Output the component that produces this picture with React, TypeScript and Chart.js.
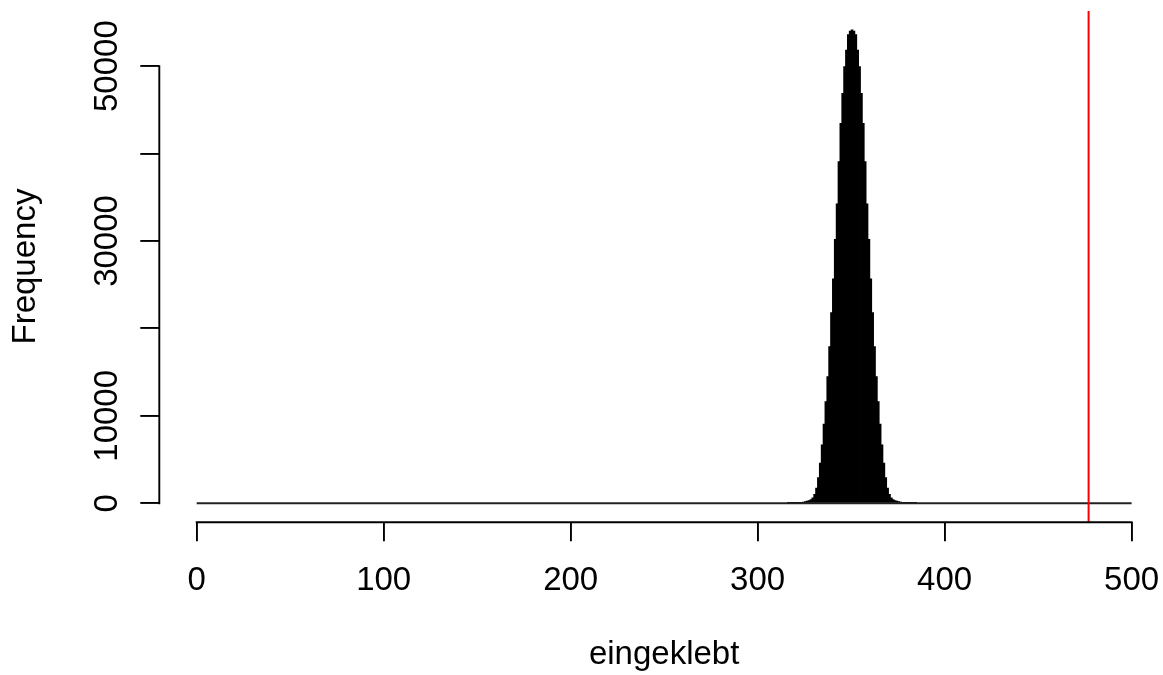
import React, { useEffect, useRef } from "react";
import { Chart, registerables } from "chart.js";

Chart.register(...registerables);

// Histogram bins have width 1; BIN_START is the left break of the first listed bin.
// All other bins between BREAK_RANGE[0] and BREAK_RANGE[1] have a count of 0.
const BIN_START = 316;
const COUNTS = [
  1, 2, 5, 10, 18, 30, 55, 90, 140, 185,
  230, 300, 400, 600, 1000, 1720, 2930, 4580, 6670, 9040,
  11620, 14480, 17910, 21800, 25650, 30190, 34230, 39070, 43460, 46890,
  49930, 51830, 53600, 54000,
  54150,
  54000, 53600, 51830, 49930,
  46890, 43460, 39070, 34230, 30190, 25650, 21800, 17910, 14480, 11620,
  9040, 6670, 4580, 2930, 1720, 1000, 600, 400, 300, 230,
  185, 140, 90, 55, 30, 18, 10, 5, 2, 1,
];
const BREAK_RANGE = [0, 500];
const OBSERVED = [477];

const X_TICKS = [0, 100, 200, 300, 400, 500];
const X_TICK_LABELS = ["0", "100", "200", "300", "400", "500"];
const Y_TICKS = [0, 10000, 20000, 30000, 40000, 50000];
const Y_TICK_LABELS = ["0", "10000", "", "30000", "", "50000"];

const X_TITLE = "eingeklebt";
const Y_TITLE = "Frequency";

const FONT = "'Liberation Sans', Arial, Helvetica, sans-serif";
const FONT_SIZE = 33;

const rAxisLines = {
  id: "rAxisLines",
  afterDraw(chart: any) {
    const { ctx, chartArea, scales } = chart;
    ctx.save();
    ctx.strokeStyle = "#000";
    ctx.lineWidth = 1.9;
    ctx.lineCap = "square";
    const x0 = scales.x.getPixelForValue(X_TICKS[0]);
    const x1 = scales.x.getPixelForValue(X_TICKS[X_TICKS.length - 1]);
    ctx.beginPath();
    ctx.moveTo(x0, chartArea.bottom);
    ctx.lineTo(x1, chartArea.bottom);
    ctx.stroke();
    const y0 = scales.y.getPixelForValue(Y_TICKS[0]);
    const y1 = scales.y.getPixelForValue(Y_TICKS[Y_TICKS.length - 1]);
    ctx.beginPath();
    ctx.moveTo(chartArea.left, y0);
    ctx.lineTo(chartArea.left, y1);
    ctx.stroke();
    ctx.restore();
  },
};

export default function App() {
  const ref = useRef<HTMLCanvasElement | null>(null);

  useEffect(() => {
    if (!ref.current) return;
    const maxCount = Math.max(...COUNTS);
    const yMin = -0.04 * maxCount;
    const yMax = 1.04 * maxCount;
    const span = BREAK_RANGE[1] - BREAK_RANGE[0];
    const xMin = BREAK_RANGE[0] - 0.04 * span;
    const xMax = BREAK_RANGE[1] + 0.04 * span;

    const bars = COUNTS.map((c, i) => ({ x: BIN_START + i + 0.5, y: c }));

    const chart = new Chart(ref.current, {
      type: "bar",
      data: {
        datasets: [
          {
            type: "line",
            data: [
              { x: OBSERVED[0], y: yMin },
              { x: OBSERVED[0], y: yMax },
            ],
            borderColor: "#ff0000",
            borderWidth: 2,
            pointRadius: 0,
            order: 0,
          } as any,
          {
            type: "line",
            data: [
              { x: BREAK_RANGE[0], y: 0 },
              { x: BREAK_RANGE[1], y: 0 },
            ],
            borderColor: "#222222",
            borderWidth: 1.8,
            pointRadius: 0,
            order: 1,
          } as any,
          {
            type: "bar",
            data: bars,
            backgroundColor: "#000000",
            borderWidth: 0,
            barPercentage: 1,
            categoryPercentage: 1,
            inflateAmount: 0.4,
            order: 2,
          } as any,
        ],
      },
      options: {
        responsive: false,
        devicePixelRatio: 1,
        animation: false,
        events: [],
        layout: { padding: { top: 10.9, left: 0, right: 0, bottom: 0 } },
        plugins: {
          legend: { display: false },
          tooltip: { enabled: false },
        },
        scales: {
          x: {
            type: "linear",
            min: xMin,
            max: xMax,
            offset: false,
            afterBuildTicks: (axis: any) => {
              axis.ticks = X_TICKS.map((v) => ({ value: v }));
            },
            afterFit: (scale: any) => {
              scale.height = 152.8;
              scale.paddingLeft = 0;
              scale.paddingRight = 0;
              scale.paddingTop = 0;
              scale.paddingBottom = 0;
            },
            grid: {
              display: true,
              offset: false,
              drawOnChartArea: false,
              drawTicks: true,
              tickLength: 19,
              color: "#000",
              lineWidth: 1.9,
            },
            border: { display: false },
            ticks: {
              autoSkip: false,
              maxRotation: 0,
              minRotation: 0,
              padding: 20,
              color: "#000",
              font: { family: FONT, size: FONT_SIZE },
              callback: (_v: any, i: number) => X_TICK_LABELS[i],
            },
            title: {
              display: true,
              text: X_TITLE,
              color: "#000",
              font: { family: FONT, size: FONT_SIZE },
              padding: { top: 0, bottom: 0 },
            },
          },
          y: {
            type: "linear",
            min: yMin,
            max: yMax,
            afterBuildTicks: (axis: any) => {
              axis.ticks = Y_TICKS.map((v) => ({ value: v }));
            },
            afterFit: (scale: any) => {
              scale.width = 159.3;
              scale.paddingLeft = 0;
              scale.paddingRight = 0;
              scale.paddingTop = 0;
              scale.paddingBottom = 0;
            },
            grid: {
              display: true,
              drawOnChartArea: false,
              drawTicks: true,
              tickLength: 19,
              color: "#000",
              lineWidth: 1.9,
            },
            border: { display: false },
            ticks: {
              autoSkip: false,
              minRotation: 90,
              maxRotation: 90,
              crossAlign: "center",
              padding: -13.6,
              color: "#000",
              font: { family: FONT, size: FONT_SIZE },
              callback: (_v: any, i: number) => Y_TICK_LABELS[i],
            },
            title: {
              display: true,
              text: Y_TITLE,
              color: "#000",
              font: { family: FONT, size: FONT_SIZE },
              padding: { top: 6.2, bottom: 0 },
            },
          },
        },
      } as any,
      plugins: [rAxisLines],
    });

    return () => chart.destroy();
  }, []);

  return (
    <div
      style={{
        position: "fixed",
        left: 0,
        top: 0,
        width: 1163,
        height: 675,
        overflow: "hidden",
        background: "#ffffff",
      }}
    >
      <canvas ref={ref} width={1169} height={675} style={{ display: "block" }} />
    </div>
  );
}
